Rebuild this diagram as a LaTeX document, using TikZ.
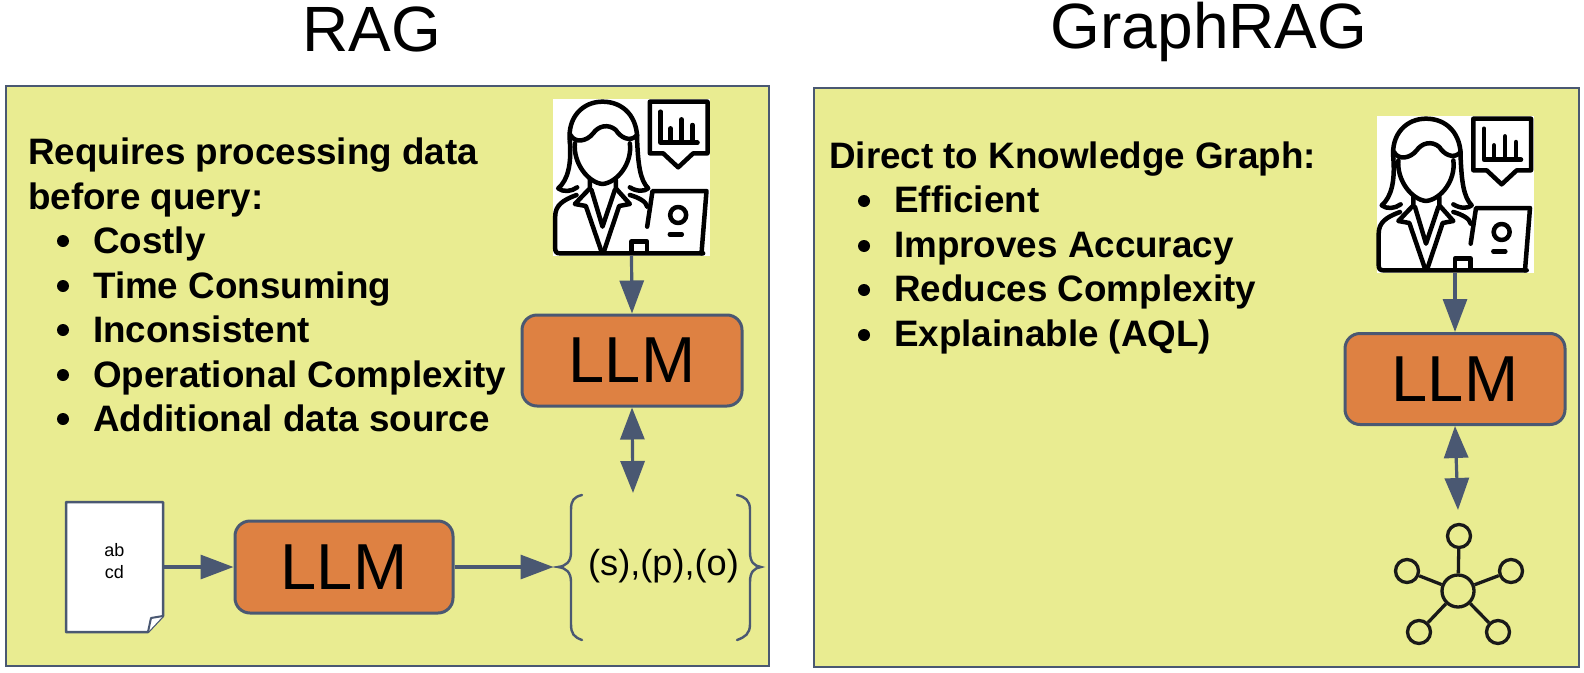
\documentclass[tikz,border=0pt]{standalone}
\usepackage{fontspec}
\setmainfont{Liberation Sans}
\usetikzlibrary{arrows.meta}
\definecolor{panelfill}{HTML}{E9EC91}
\definecolor{slateline}{HTML}{4A5872}
\definecolor{llmfill}{HTML}{DE8142}
\tikzset{
  x=1pt,y=-1pt,
  panel/.style={draw=slateline,fill=panelfill,line width=2.5pt},
  llmbox/.style={draw=slateline,fill=llmfill,line width=3pt,rounded corners=15pt,inner sep=0pt,font=\fontsize{65}{65}\selectfont},
  title/.style={font=\fontsize{64}{64}\selectfont,inner sep=0pt,anchor=base},
  txt/.style={anchor=base west,inner sep=0pt,font=\fontsize{36.8}{36.8}\selectfont\bfseries},
  bul/.style={circle,fill=black,inner sep=0pt,minimum size=12pt},
  conn/.style={draw=slateline,line width=3.2pt,-{Triangle[length=33pt,width=24pt]}},
  dconn/.style={draw=slateline,line width=3.2pt,{Triangle[length=32pt,width=24pt]}-{Triangle[length=32pt,width=24pt]}},
  brace/.style={draw=slateline,line width=2.4pt,line cap=round},
  iconline/.style={draw=black,line width=4.5pt,line cap=round,line join=round},
  gnode/.style={circle,draw=black!90,line width=3.3pt,inner sep=0pt},
  gedge/.style={draw=black!90,line width=3.3pt},
  userbox/.style={fill=white,inner sep=0pt,minimum size=157pt},
  pics/usericon/.style={code={
    \begin{scope}[x=0.3333pt,y=-0.3333pt,shift={(-305,-292.5)}]
      % hair
      \path[iconline] (120,185) .. controls (112,110) and (160,65) .. (218,65) .. controls (280,65) and (325,110) .. (322,185)
         .. controls (325,250) and (330,300) .. (355,325) .. controls (345,335) and (320,335) .. (300,322);
      \path[iconline] (120,185) .. controls (125,250) and (115,300) .. (85,325) .. controls (100,337) and (125,335) .. (142,322);
      % fringe
      \path[iconline] (122,165) .. controls (135,190) and (170,185) .. (190,160) .. controls (205,138) and (235,130) .. (258,150) .. controls (270,170) and (300,190) .. (322,165);
      % face
      \path[iconline] (135,190) .. controls (130,250) and (175,308) .. (218,312) .. controls (262,308) and (308,250) .. (300,190);
      % neck and lapels
      \path[iconline] (180,300) -- (180,325) -- (135,372) -- (168,378) -- (215,515);
      \path[iconline] (258,300) -- (258,325) -- (300,372) -- (268,378) -- (222,515);
      \path[iconline] (185,330) -- (218,440) -- (255,330);
      % body
      \path[iconline] (140,345) .. controls (100,360) and (76,375) .. (76,410) -- (76,505) .. controls (76,515) and (80,520) .. (90,520) -- (520,520);
      \path[iconline] (300,345) .. controls (325,352) and (350,365) .. (352,380);
      \path[iconline] (305,518) -- (305,485) -- (352,485) -- (352,518);
      % laptop
      \path[iconline] (352,440) -- (368,333) -- (530,333) -- (515,520);
      \path[iconline] (445,405) circle[radius=24];
      \path[iconline] (420,463) -- (456,463);
      % bubble
      \path[iconline] (360,65) -- (533,65) -- (533,220) -- (490,220) -- (445,262) -- (400,220) -- (360,220) -- cycle;
      \path[iconline] (392,95) -- (392,188) -- (503,188);
      \path[iconline] (422,145) -- (422,188);
      \path[iconline] (455,118) -- (455,188);
      \path[iconline] (488,135) -- (488,188);
    \end{scope}
  }}
}
\begin{document}
\begin{tikzpicture}
\useasboundingbox (0,0) rectangle (1584,672);
% panels
\path[panel] (6,86) rectangle (769,666);
\path[panel] (814,88) rectangle (1579,667);
% titles
\node[title] (t1) at (372,51) {RAG};
\node[title] (t2) at (1209,48.5) {GraphRAG};
% left text
\node[txt] (a1) at (28,164) {Requires processing data};
\node[txt] (a2) at (28,209) {before query:};
\node[txt] (a3) at (93,253) {Costly};
\node[txt] (a4) at (93,298) {Time Consuming};
\node[txt] (a5) at (93,342) {Inconsistent};
\node[txt] (a6) at (93,387) {Operational Complexity};
\node[txt] (a7) at (93,431) {Additional data source};
\foreach \n/\yy in {b3/241,b4/286,b5/330,b6/375,b7/419}{\node[bul] (\n) at (63,\yy) {};}
% right text
\node[txt] (c1) at (829,168) {Direct to Knowledge Graph:};
\node[txt] (c2) at (894,212) {Efficient};
\node[txt] (c3) at (894,257) {Improves Accuracy};
\node[txt] (c4) at (894,301) {Reduces Complexity};
\node[txt] (c5) at (894,346) {Explainable (AQL)};
\foreach \n/\yy in {d2/201,d3/246,d4/290,d5/335}{\node[bul] (\n) at (864,\yy) {};}
% users
\node[userbox] (user1) at (631.5,177.5) {};
\pic at (user1.center) {usericon};
\node[userbox] (user2) at (1455,194.5) {};
\pic at (user2.center) {usericon};
% LLMs
\node[llmbox,minimum width=220pt,minimum height=91pt] (llm1) at (632,360.5) {LLM};
\node[llmbox,minimum width=218pt,minimum height=92pt] (llm2) at (344,567) {LLM};
\node[llmbox,minimum width=220pt,minimum height=91pt] (llm3) at (1455,379) {LLM};
% document
\node[inner sep=0pt,minimum width=97pt,minimum height=130pt] (doc) at (114.5,567) {};
\path[draw=slateline,fill=white,line width=2.5pt,line join=round] (66,502) -- (163,502) -- (163,616) -- (148,632) -- (66,632) -- cycle;
\path[draw=slateline,fill=white,line width=2pt,line join=round] (163,616) -- (151,618) -- (148,632);
\node[font=\fontsize{18}{21.5}\selectfont,align=center,inner sep=0pt] (doct) at (114.5,561) {ab\\cd};
% triples
\node[font=\fontsize{36.2}{36.2}\selectfont,inner sep=0pt,anchor=base] (spo) at (663.5,575) {(s),(p),(o)};
\path[brace] (582,495) .. controls (574,497) and (571,500) .. (571,510) -- (571,552) .. controls (571,562) and (566,566) .. (558,567)
   .. controls (566,568) and (571,572) .. (571,582) -- (571,624) .. controls (571,634) and (574,637) .. (582,640);
\path[brace] (737,495) .. controls (745,497) and (750,500) .. (750,510) -- (750,552) .. controls (750,562) and (754,566) .. (761,567)
   .. controls (754,568) and (750,572) .. (750,582) -- (750,624) .. controls (750,634) and (745,637) .. (737,640);
% connectors
\coordinate (spotop) at (633,493);
\coordinate (spoleft) at (553.5,567);
\path[conn] (doc.east) -- (llm2.west);
\path[conn] (llm2.east) -- (spoleft);
\path[conn] (user1.south) -- (llm1.north);
\path[dconn] (llm1.south) -- (spotop);
% graph icon
\node[gnode,minimum size=32pt] (hub) at (1458,591) {};
\node[gnode,minimum size=23pt] (g1) at (1459,536) {};
\node[gnode,minimum size=23pt] (g2) at (1407,571) {};
\node[gnode,minimum size=23pt] (g3) at (1511,571) {};
\node[gnode,minimum size=23pt] (g4) at (1419,632) {};
\node[gnode,minimum size=23pt] (g5) at (1498,632) {};
\foreach \g in {g1,g2,g3,g4,g5}{\path[gedge] (hub) -- (\g);}
\path[conn] (user2.south) -- (llm3.north);
\coordinate (graphtop) at (1458,510);
\path[dconn] (llm3.south) -- (graphtop);
\end{tikzpicture}
\end{document}
